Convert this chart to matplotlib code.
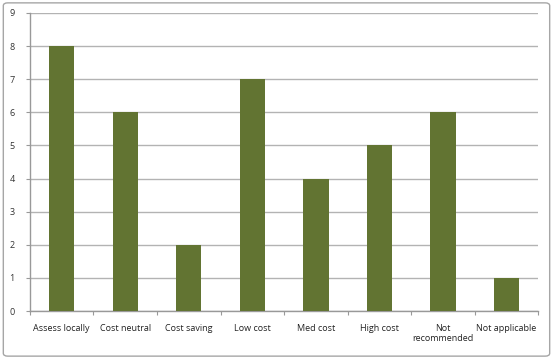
import matplotlib
matplotlib.use("Agg")
import matplotlib.pyplot as plt
from matplotlib.patches import FancyBboxPatch

categories = ["Assess locally", "Cost neutral", "Cost saving", "Low cost",
              "Med cost", "High cost", "Not\nrecommended", "Not applicable"]
values = [8, 6, 2, 7, 4, 5, 6, 1]
yticks = list(range(0, 10))

plt.rcParams['font.family'] = ['Open Sans', 'DejaVu Sans']

fig = plt.figure(figsize=(5.53, 3.59), dpi=100)
fig.patch.set_facecolor('white')
border = FancyBboxPatch((0.006, 0.008), 0.988, 0.984, boxstyle="round,pad=0,rounding_size=0.008",
                        transform=fig.transFigure, facecolor='none', edgecolor='#a6a6a6', linewidth=1.0)
fig.patches.append(border)

ax = fig.add_axes([0.0542, 0.1337, 0.919, 0.8301])
x = list(range(len(categories)))
ax.bar(x, values, width=0.4, color='#627432', zorder=3)
ax.set_xlim(-0.5, len(categories) - 0.5)
ax.set_ylim(0, 9)
ax.set_yticks(yticks)
ax.set_yticklabels([str(t) for t in yticks], fontsize=6.5, color='#333333')
ax.yaxis.grid(True, color='#b3b3b3', linewidth=1.0, zorder=0)
ax.set_xticks([i + 0.5 for i in range(-1, len(categories))], minor=False)
ax.set_xticklabels([])
ax.set_xticks(x, minor=True)
ax.set_xticklabels(categories, minor=True, fontsize=6.5, color='#222222')
ax.tick_params(axis='x', which='minor', length=0, pad=9)
ax.tick_params(axis='x', which='major', length=3, color='#999999', direction='out')
ax.tick_params(axis='y', length=3, color='#999999', direction='out', pad=8)
for s in ['top', 'right']:
    ax.spines[s].set_visible(False)
for s in ['left', 'bottom']:
    ax.spines[s].set_color('#999999')
    ax.spines[s].set_linewidth(1.0)
ax.set_axisbelow(True)

fig.savefig("out.png", dpi=100)
